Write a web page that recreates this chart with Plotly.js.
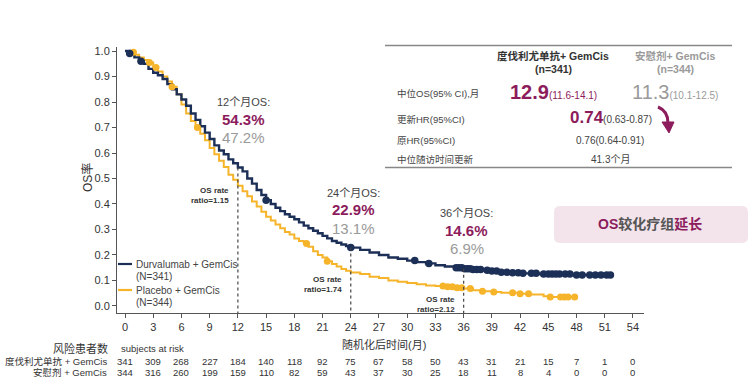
<!DOCTYPE html>
<html>
<head>
<meta charset="utf-8">
<script src="https://cdn.plot.ly/plotly-3.0.1.min.js"></script>
<style>html,body{margin:0;padding:0;background:#fff;}#chart{width:755px;height:384px;}</style>
</head>
<body>
<div id="chart"></div>
<script>
// ---------- data ----------
const durvaTimes = [0,0.5,1,1.5,2,2.5,3,3.5,4,4.5,5,5.5,6,6.5,7,7.5,8,8.5,9,9.5,10,10.5,11,11.5,12,12.5,13,13.5,14,14.5,15,15.5,16,16.5,17,17.5,18,18.5,19,19.5,20,20.5,21,21.5,22,22.5,23,23.5,24,25,26,27,28,29,30,31,32,33,34,35,36,37,38,39,40,41,42,44,46,48,50,51.6];
const durvaSurv  = [1,0.99,0.975,0.96,0.95,0.93,0.915,0.905,0.89,0.87,0.85,0.83,0.81,0.785,0.755,0.73,0.705,0.68,0.655,0.63,0.61,0.595,0.575,0.56,0.543,0.528,0.50,0.48,0.455,0.435,0.415,0.40,0.385,0.372,0.36,0.35,0.34,0.328,0.315,0.305,0.295,0.285,0.275,0.265,0.255,0.248,0.241,0.235,0.229,0.22,0.21,0.20,0.19,0.185,0.178,0.172,0.167,0.16,0.155,0.15,0.146,0.143,0.14,0.137,0.132,0.13,0.128,0.125,0.125,0.122,0.122,0.122];
const placeboTimes = [0,0.5,1,1.5,2,2.5,3,3.5,4,4.5,5,5.5,6,6.5,7,7.5,8,8.5,9,9.5,10,10.5,11,11.5,12,12.5,13,13.5,14,14.5,15,15.5,16,16.5,17,17.5,18,18.5,19,19.5,20,20.5,21,21.5,22,22.5,23,23.5,24,25,26,27,28,29,30,31,32,33,34,35,36,37,38,39,40,42,43,44.5,45,47.8];
const placeboSurv  = [1,0.995,0.985,0.975,0.965,0.955,0.935,0.92,0.90,0.88,0.86,0.83,0.79,0.755,0.725,0.70,0.675,0.65,0.62,0.595,0.57,0.545,0.515,0.495,0.472,0.45,0.43,0.41,0.39,0.37,0.35,0.335,0.32,0.305,0.29,0.28,0.265,0.255,0.245,0.232,0.215,0.20,0.19,0.175,0.165,0.155,0.145,0.138,0.131,0.125,0.115,0.11,0.10,0.095,0.09,0.085,0.08,0.078,0.075,0.072,0.069,0.062,0.058,0.055,0.052,0.048,0.045,0.038,0.035,0.035];
const durvaCensor = [0.5,1.7,15,24,30.8,32.3,35.2,35.5,35.8,36.1,36.4,36.7,37.0,37.4,37.8,38.5,39.0,39.5,40.0,40.6,41.2,41.8,42.3,43.2,43.7,44.5,45.0,45.4,45.8,46.2,46.8,47.3,48.0,48.6,49.4,50.0,50.6,51.2,51.6];
const placeboCensor = [0.9,2.6,3.3,5.0,7.7,19.3,21.5,33.8,34.3,34.8,35.3,35.8,36.7,38.0,39.2,41.2,42.0,42.9,45.2,46.3,46.7,47.1,47.8];

const monthTicks = [0,3,6,9,12,15,18,21,24,27,30,33,36,39,42,45,48,51,54];
const yTicks = [0,0.1,0.2,0.3,0.4,0.5,0.6,0.7,0.8,0.9,1.0];
const riskDurva   = [341,309,268,227,184,140,118,92,75,67,58,50,43,31,21,15,7,1,0];
const riskPlacebo = [344,316,260,199,159,110,82,59,43,37,30,25,18,11,8,4,0,0,0];

const landmarkMonths = [12,24,36];
const osDurva   = [54.3,22.9,14.6];
const osPlacebo = [47.2,13.1,6.9];
const rateRatios = ['1.15','1.74','2.12'];

const seriesNames = ['Durvalumab + GemCis','Placebo + GemCis'];
const seriesN = ['(N=341)','(N=344)'];
const riskLabels = ['度伐利尤单抗 + GemCis','安慰剂 + GemCis'];

// ---------- styles ----------
const NAVY = '#1c2f57', ORANGE = '#f6b42a', MAG = '#8c1c5c', GRAY = '#9a9a9a', DARK = '#333333';
const FONT = 'Liberation Sans, Arial, Noto Sans CJK SC, sans-serif';
const L = 117, T = 47, W = 527, H = 266;
const px = x => (x - L) / W;
const py = y => (T + H - y) / H;

function stepAt(times, surv, t) {
  let v = surv[0];
  for (let i = 0; i < times.length; i++) { if (times[i] <= t) v = surv[i]; }
  return v;
}

const traces = [
  {x: placeboTimes, y: placeboSurv, mode: 'lines', line: {shape: 'hv', color: ORANGE, width: 2}, hoverinfo: 'skip', showlegend: false},
  {x: durvaTimes, y: durvaSurv, mode: 'lines', line: {shape: 'hv', color: NAVY, width: 2.4}, hoverinfo: 'skip', showlegend: false},
  {x: placeboCensor, y: placeboCensor.map(t => stepAt(placeboTimes, placeboSurv, t)), mode: 'markers',
   marker: {color: ORANGE, size: 7}, showlegend: false, hoverinfo: 'skip'},
  {x: durvaCensor, y: durvaCensor.map(t => stepAt(durvaTimes, durvaSurv, t)), mode: 'markers',
   marker: {color: NAVY, size: 7.5}, showlegend: false, hoverinfo: 'skip'}
];

const ann = [];
function A(text, x, y, o) {
  ann.push(Object.assign({text: text, xref: 'paper', yref: 'paper', x: px(x), y: py(y), showarrow: false,
    xanchor: 'center', yanchor: 'middle', font: {family: FONT, size: 10, color: DARK}}, o || {}));
}

// landmark labels
landmarkMonths.forEach((m, i) => {
  const yTop = [102, 193, 213][i];
  const xs = [6, 3, 3][i];
  ann.push({text: m + '个月OS:', xref: 'x', x: m, xshift: xs, yref: 'paper', y: py(yTop), showarrow: false, xanchor: 'center', yanchor: 'middle', font: {family: FONT, size: 11, color: '#444'}});
  ann.push({text: '<b>' + osDurva[i].toFixed(1) + '%</b>', xref: 'x', x: m, xshift: xs, yref: 'paper', y: py(yTop + 17), showarrow: false, xanchor: 'center', yanchor: 'middle', font: {family: FONT, size: 15, color: MAG}});
  ann.push({text: osPlacebo[i].toFixed(1) + '%', xref: 'x', x: m, xshift: xs, yref: 'paper', y: py(yTop + 35), showarrow: false, xanchor: 'center', yanchor: 'middle', font: {family: FONT, size: 15, color: GRAY}});
  const yr = [195, 284, 304][i];
  ann.push({text: '<b>OS rate<br>ratio=' + rateRatios[i] + '</b>', xref: 'x', x: m, xshift: -7, yref: 'paper', y: py(yr), showarrow: false, xanchor: 'right', yanchor: 'middle', align: 'right', font: {family: FONT, size: 8, color: DARK}});
});

// legend (custom)
A(seriesNames[0], 134, 264, {xanchor: 'left', font: {family: FONT, size: 10, color: '#444'}});
A(seriesN[0], 134, 276, {xanchor: 'left', font: {family: FONT, size: 10, color: '#444'}});
A(seriesNames[1], 134, 290, {xanchor: 'left', font: {family: FONT, size: 10, color: '#444'}});
A(seriesN[1], 134, 302, {xanchor: 'left', font: {family: FONT, size: 10, color: '#444'}});

// axis titles
A('OS率', 88, 178, {textangle: -90, font: {family: FONT, size: 12, color: '#333'}});
A('随机化后时间(月)', 384, 344, {font: {family: FONT, size: 11, color: '#333'}});

// risk table
A('风险患者数', 110, 348, {xanchor: 'right', font: {family: FONT, size: 11, color: '#333'}});
A('subjects at risk', 119, 348, {xanchor: 'left', font: {family: FONT, size: 9.5, color: '#333'}});
A(riskLabels[0], 109, 361, {xanchor: 'right', font: {family: FONT, size: 9.5, color: '#333'}});
A(riskLabels[1], 109, 373, {xanchor: 'right', font: {family: FONT, size: 9.5, color: '#333'}});
monthTicks.forEach((m, i) => {
  ann.push({text: String(riskDurva[i]), xref: 'x', x: m, yref: 'paper', y: py(361), showarrow: false, xanchor: 'center', yanchor: 'middle', font: {family: FONT, size: 9.5, color: '#333'}});
  ann.push({text: String(riskPlacebo[i]), xref: 'x', x: m, yref: 'paper', y: py(373), showarrow: false, xanchor: 'center', yanchor: 'middle', font: {family: FONT, size: 9.5, color: '#333'}});
});

// top-right table
A('<b>度伐利尤单抗+ GemCis</b>', 553, 56, {font: {family: FONT, size: 10.5, color: '#333'}});
A('<b>(n=341)</b>', 553, 69, {font: {family: FONT, size: 10.5, color: '#333'}});
A('<b>安慰剂+ GemCis</b>', 675, 56, {font: {family: FONT, size: 10.5, color: GRAY}});
A('<b>(n=344)</b>', 675, 69, {font: {family: FONT, size: 10.5, color: GRAY}});
A('中位OS(95% CI),月', 395, 93, {xanchor: 'left', font: {family: FONT, size: 9.5, color: '#444'}});
A('更新HR(95%CI)', 395, 119, {xanchor: 'left', font: {family: FONT, size: 9.5, color: '#444'}});
A('原HR(95%CI)', 395, 140, {xanchor: 'left', font: {family: FONT, size: 9.5, color: '#444'}});
A('中位随访时间更新', 395, 159, {xanchor: 'left', font: {family: FONT, size: 9.5, color: '#444'}});
A('<b><span style="font-size:20px">12.9</span></b><span style="font-size:10px">(11.6-14.1)</span>', 553, 92, {font: {family: FONT, size: 10, color: MAG}});
A('<span style="font-size:20px">11.3</span><span style="font-size:10px">(10.1-12.5)</span>', 675, 92, {font: {family: FONT, size: 10, color: GRAY}});
A('<b><span style="font-size:17px;fill:' + MAG + '">0.74</span></b><span style="font-size:10px">(0.63-0.87)</span>', 611, 118, {font: {family: FONT, size: 10, color: '#444'}});
A('0.76(0.64-0.91)', 610, 140, {font: {family: FONT, size: 10, color: '#444'}});
A('41.3个月', 610, 159, {font: {family: FONT, size: 10, color: '#444'}});

// highlight box text
A('<b><span style="fill:' + MAG + '">OS</span>较化疗组<span style="fill:' + MAG + '">延长</span></b>', 650, 224, {font: {family: FONT, size: 14, color: '#555'}});

// shapes
const shapes = [];
landmarkMonths.forEach((m, i) => {
  shapes.push({type: 'line', xref: 'x', yref: 'y', x0: m, x1: m, y0: osDurva[i] / 100, y1: -0.0275, line: {color: '#444', width: 1.2, dash: 'dot'}});
});
// legend samples
shapes.push({type: 'line', xref: 'paper', yref: 'paper', x0: px(118), x1: px(132), y0: py(264), y1: py(264), line: {color: NAVY, width: 2.2}});
shapes.push({type: 'line', xref: 'paper', yref: 'paper', x0: px(118), x1: px(132), y0: py(290), y1: py(290), line: {color: ORANGE, width: 2.2}});
// table rules
shapes.push({type: 'line', xref: 'paper', yref: 'paper', x0: px(385), x1: px(732), y0: py(45.5), y1: py(45.5), line: {color: '#888', width: 1.5}});
shapes.push({type: 'line', xref: 'paper', yref: 'paper', x0: px(385), x1: px(732), y0: py(167.5), y1: py(167.5), line: {color: '#888', width: 1.5}});
// rounded box
function rrect(x0, y0, x1, y1, r) {
  const f = (x, y) => px(x).toFixed(5) + ',' + py(y).toFixed(5);
  return 'M' + f(x0 + r, y0) + ' L' + f(x1 - r, y0) + ' Q' + f(x1, y0) + ' ' + f(x1, y0 + r) +
    ' L' + f(x1, y1 - r) + ' Q' + f(x1, y1) + ' ' + f(x1 - r, y1) + ' L' + f(x0 + r, y1) +
    ' Q' + f(x0, y1) + ' ' + f(x0, y1 - r) + ' L' + f(x0, y0 + r) + ' Q' + f(x0, y0) + ' ' + f(x0 + r, y0) + ' Z';
}
shapes.push({type: 'path', xref: 'paper', yref: 'paper', path: rrect(554, 206, 748, 243, 6), fillcolor: '#f3e4ec', line: {width: 0}, layer: 'below'});
// curved arrow
const f2 = (x, y) => px(x).toFixed(5) + ',' + py(y).toFixed(5);
shapes.push({type: 'path', xref: 'paper', yref: 'paper', path: 'M' + f2(658, 107) + ' Q' + f2(668, 111) + ' ' + f2(668, 123), line: {color: MAG, width: 3}});
shapes.push({type: 'path', xref: 'paper', yref: 'paper', path: 'M' + f2(662, 122) + ' L' + f2(674, 122) + ' L' + f2(669, 133) + ' Z', fillcolor: MAG, line: {color: MAG, width: 1}});

const layout = {
  width: 755, height: 384,
  margin: {l: L, r: 755 - L - W, t: T, b: 384 - T - H, pad: 0},
  paper_bgcolor: '#ffffff', plot_bgcolor: '#ffffff',
  showlegend: false,
  xaxis: {range: [-0.85, 55.17], tickvals: monthTicks, ticktext: monthTicks.map(String), ticks: 'outside', ticklen: 4, tickcolor: '#555',
    showline: true, linecolor: '#555', linewidth: 1, showgrid: false, zeroline: false, tickfont: {family: FONT, size: 11, color: '#333'}},
  yaxis: {range: [-0.0275, 1.0157], tickvals: yTicks, ticktext: yTicks.map(v => v.toFixed(1)), ticks: 'outside', ticklen: 4, tickcolor: '#555',
    showline: true, linecolor: '#555', linewidth: 1, showgrid: false, zeroline: false, tickfont: {family: FONT, size: 11, color: '#333'}},
  annotations: ann,
  shapes: shapes
};

Plotly.newPlot('chart', traces, layout, {displayModeBar: false, staticPlot: true});
</script>
</body>
</html>
